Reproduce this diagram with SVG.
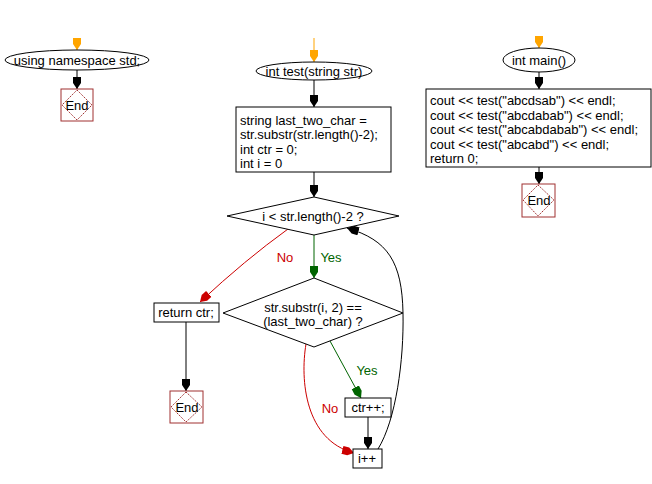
<svg xmlns="http://www.w3.org/2000/svg" width="652" height="484" viewBox="0 0 652 484">
<style>
text{font-family:"Liberation Sans",Arial,sans-serif;font-size:13px;fill:#000}
.c{text-anchor:middle}
.shape{fill:#fff;stroke:#000;stroke-width:1}
.endbox{fill:#fff;stroke:#a03030;stroke-width:1}
.enddia{fill:none;stroke:#a03030;stroke-width:1;stroke-dasharray:1.5,1}
.ln{fill:none;stroke:#000;stroke-width:1}
.or{fill:none;stroke:#ffa500;stroke-width:1}
.rd{fill:none;stroke:#cc0000;stroke-width:1}
.gr{fill:none;stroke:#006400;stroke-width:1}
</style>
<defs>
<marker id="ab" viewBox="0 0 12 10" refX="12" refY="5" markerWidth="12" markerHeight="10" markerUnits="userSpaceOnUse" orient="auto"><path d="M0,1 L6,1 L12,5 L6,9 L0,9 z" fill="#000"/></marker>
<marker id="ao" viewBox="0 0 12 10" refX="12" refY="5" markerWidth="12" markerHeight="10" markerUnits="userSpaceOnUse" orient="auto"><path d="M0,1 L6,1 L12,5 L6,9 L0,9 z" fill="#ffa500"/></marker>
<marker id="ar" viewBox="0 0 12 10" refX="12" refY="5" markerWidth="12" markerHeight="10" markerUnits="userSpaceOnUse" orient="auto"><path d="M0,1 L6,1 L12,5 L6,9 L0,9 z" fill="#cc0000"/></marker>
<marker id="ag" viewBox="0 0 12 10" refX="12" refY="5" markerWidth="12" markerHeight="10" markerUnits="userSpaceOnUse" orient="auto"><path d="M0,1 L6,1 L12,5 L6,9 L0,9 z" fill="#006400"/></marker>
</defs>
<g id="connectors">
<path class="or" d="M77,38 L77,50" marker-end="url(#ao)"/>
<path class="ln" d="M77,70 L77,89" marker-end="url(#ab)"/>
<path class="or" d="M314,38 L314,62" marker-end="url(#ao)"/>
<path class="ln" d="M314,80 L314,107" marker-end="url(#ab)"/>
<path class="ln" d="M314,172 L314,197" marker-end="url(#ab)"/>
<path class="gr" d="M314,235 L314,278" marker-end="url(#ag)"/>
<path class="rd" d="M288,229 Q245,260 200,302" marker-end="url(#ar)"/>
<path class="ln" d="M186,322 L186,391" marker-end="url(#ab)"/>
<path class="gr" d="M330,341 L361,398" marker-end="url(#ag)"/>
<path class="rd" d="M306,344 C300,380 305,440 354,453" marker-end="url(#ar)"/>
<path class="ln" d="M368,417 L368,449" marker-end="url(#ab)"/>
<path class="ln" d="M378,449 C396,420 404,360 403,313 C402,262 388,240 347,228" marker-end="url(#ab)"/>
<path class="or" d="M539,38 L539,48" marker-end="url(#ao)"/>
<path class="ln" d="M539,72 L539,89" marker-end="url(#ab)"/>
<path class="ln" d="M539,167 L539,184" marker-end="url(#ab)"/>
<text x="285" y="262" class="c" style="fill:#cc0000">No</text>
<text x="331" y="262" class="c" style="fill:#006400">Yes</text>
<text x="367" y="375" class="c" style="fill:#006400">Yes</text>
<text x="330" y="413" class="c" style="fill:#cc0000">No</text>
</g>
<g id="n_using">
<ellipse class="shape" cx="77" cy="60" rx="72" ry="10"/>
<text x="77" y="65" class="c">using namespace std;</text>
</g>
<g id="n_end1">
<rect class="endbox" x="61" y="89" width="32" height="32"/>
<path class="enddia" d="M77,90 L92,105 L77,120 L62,105 z"/>
<text x="77" y="110" class="c">End</text>
</g>
<g id="n_test">
<ellipse class="shape" cx="314" cy="71" rx="58" ry="9"/>
<text x="314" y="76" class="c">int test(string str)</text>
</g>
<g id="n_init">
<rect class="shape" x="236" y="107" width="155" height="65"/>
<text x="240" y="125">string last_two_char =</text>
<text x="240" y="139">str.substr(str.length()-2);</text>
<text x="240" y="154">int ctr = 0;</text>
<text x="240" y="168">int i = 0</text>
</g>
<g id="n_cond1">
<path class="shape" d="M314,197 L399,216 L314,235 L227,216 z"/>
<text x="313" y="221" class="c">i &lt; str.length()-2 ?</text>
</g>
<g id="n_cond2">
<path class="shape" d="M314,278 L403,313 L314,347 L223,313 z"/>
<text x="313" y="312" class="c">str.substr(i, 2) ==</text>
<text x="313" y="326" class="c">(last_two_char) ?</text>
</g>
<g id="n_return">
<rect class="shape" x="154" y="303" width="65" height="19"/>
<text x="186" y="317" class="c">return ctr;</text>
</g>
<g id="n_end2">
<rect class="endbox" x="170" y="391" width="33" height="32"/>
<path class="enddia" d="M186,392 L202,407 L186,422 L171,407 z"/>
<text x="187" y="412" class="c">End</text>
</g>
<g id="n_ctr">
<rect class="shape" x="345" y="398" width="46" height="19"/>
<text x="368" y="412" class="c">ctr++;</text>
</g>
<g id="n_inc">
<rect class="shape" x="353" y="449" width="29" height="19"/>
<text x="367" y="463" class="c">i++</text>
</g>
<g id="n_main">
<ellipse class="shape" cx="539" cy="60" rx="36" ry="12"/>
<text x="539" y="65" class="c">int main()</text>
</g>
<g id="n_body">
<rect class="shape" x="426" y="89" width="225" height="78"/>
<text x="430" y="105">cout &lt;&lt; test("abcdsab") &lt;&lt; endl;</text>
<text x="430" y="120">cout &lt;&lt; test("abcdabab") &lt;&lt; endl;</text>
<text x="430" y="134">cout &lt;&lt; test("abcabdabab") &lt;&lt; endl;</text>
<text x="430" y="149">cout &lt;&lt; test("abcabd") &lt;&lt; endl;</text>
<text x="430" y="163">return 0;</text>
</g>
<g id="n_end3">
<rect class="endbox" x="522" y="184" width="33" height="33"/>
<path class="enddia" d="M538,185 L554,200 L538,216 L523,200 z"/>
<text x="539" y="205" class="c">End</text>
</g>
</svg>
